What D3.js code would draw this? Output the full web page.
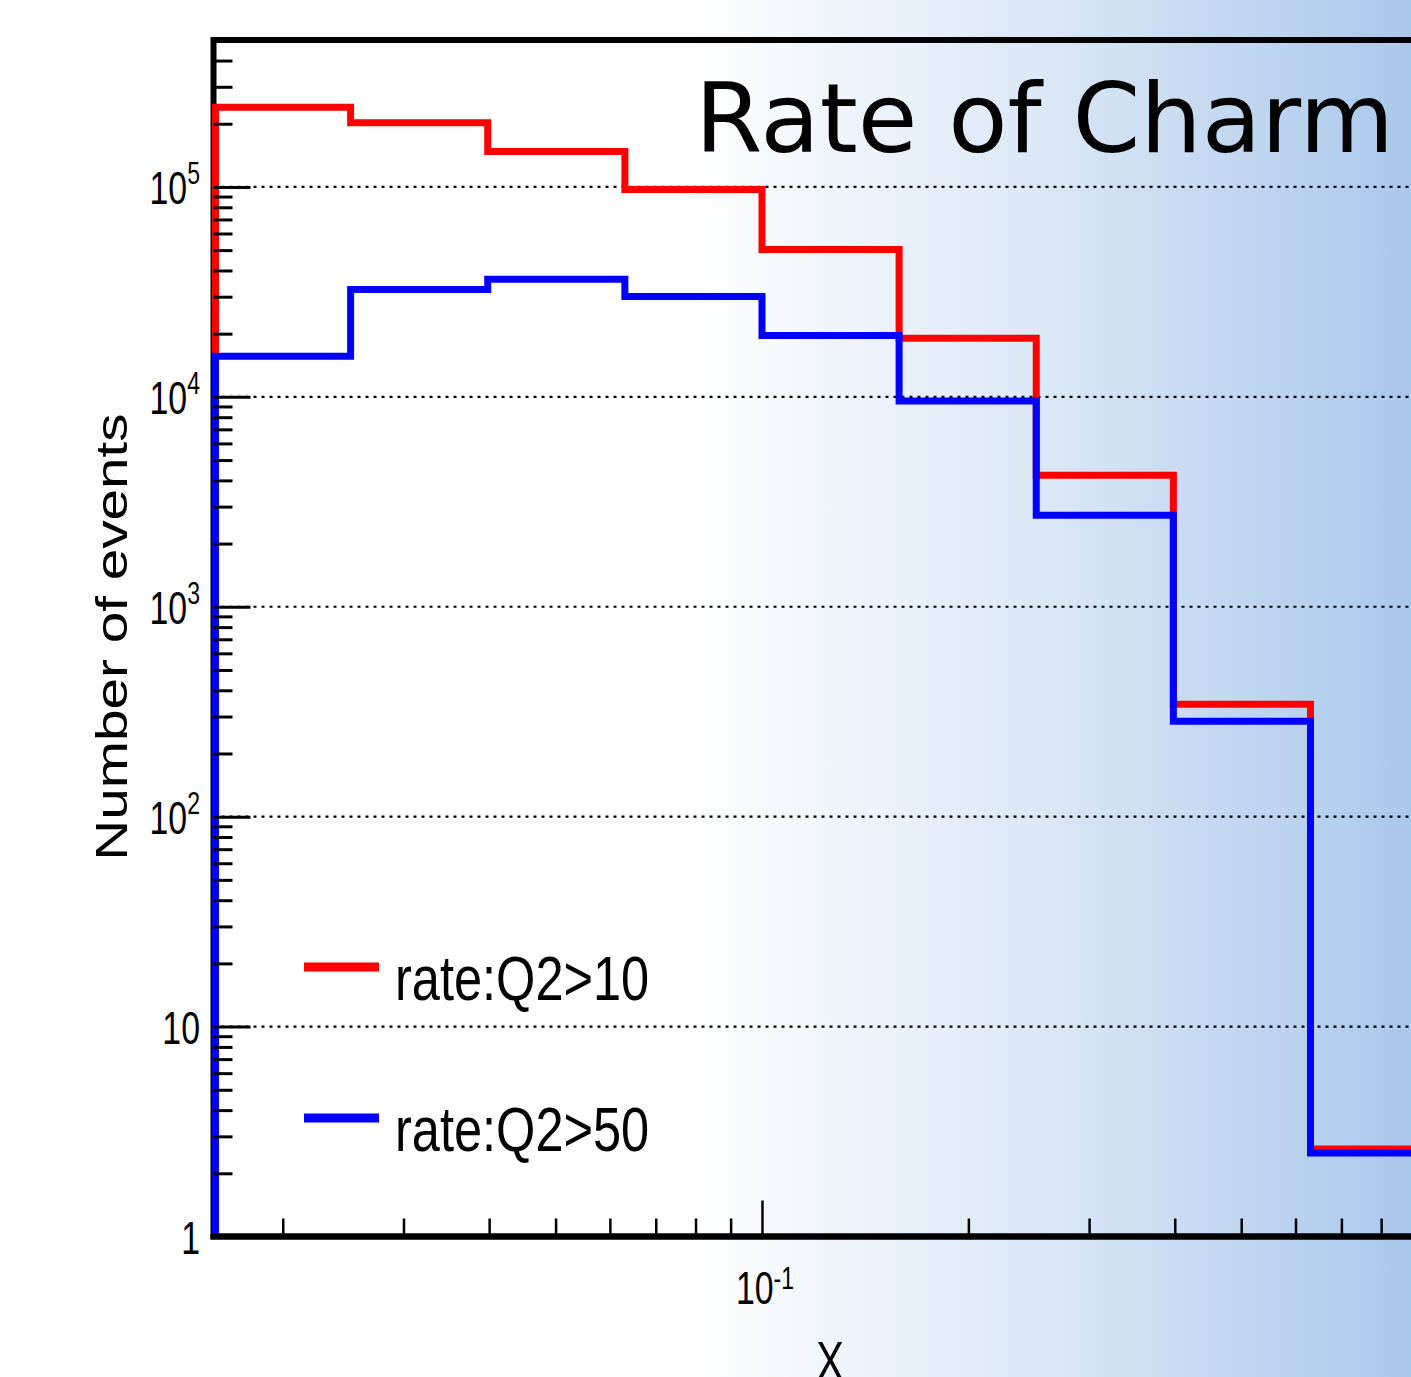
<!DOCTYPE html>
<html>
<head>
<meta charset="utf-8">
<script src="https://cdn.jsdelivr.net/npm/d3@7"></script>
<style>
  html, body { margin: 0; padding: 0; background: #fff; }
  svg { display: block; }
</style>
</head>
<body>
<div id="chart"></div>
<script>
// bin edges in x (log spaced, 9 bins)
const xEdges = [0.01585, 0.02512, 0.03981, 0.0631, 0.1, 0.1585, 0.2512, 0.3981, 0.631, 1.0];
// events per bin
const rateQ2gt10 = [240000, 202000, 147600, 97300, 50400, 19000, 4230, 343, 2.61];
const rateQ2gt50 = [15600, 32500, 36300, 30100, 19600, 9550, 2730, 285, 2.5];
const seriesNames = ['rate:Q2>10', 'rate:Q2>50'];
const seriesColors = ['#ff0000', '#0000ff'];
const titleText = 'Rate of Charm';
const xTitle = 'X';
const yTitle = 'Number of events';

const W = 1411, H = 1377;
const frame = { left: 213.5, right: 1447.6, top: 40, bottom: 1236.5 };

const svg = d3.select('#chart').append('svg')
  .attr('width', W).attr('height', H);

// background gradient (white on the left, light blue on the right)
const defs = svg.append('defs');
const grad = defs.append('linearGradient')
  .attr('id', 'bg-grad')
  .attr('gradientUnits', 'userSpaceOnUse')
  .attr('x1', 690).attr('y1', 0).attr('x2', 1411).attr('y2', 0);
grad.append('stop').attr('offset', '0%').attr('stop-color', '#ffffff');
grad.append('stop').attr('offset', '50%').attr('stop-color', '#dae7f6');
grad.append('stop').attr('offset', '100%').attr('stop-color', '#aac8ec');

svg.append('rect')
  .attr('width', W).attr('height', H)
  .attr('fill', 'url(#bg-grad)');

// scales
const x = d3.scaleLog()
  .domain([xEdges[0], xEdges[xEdges.length - 1]])
  .range([frame.left, frame.right]);

const y = d3.scaleLog()
  .domain([1, Math.pow(10, 5.7)])
  .range([frame.bottom, frame.top]);

const isDecade = (v) => Math.abs(Math.log10(v) - Math.round(Math.log10(v))) < 1e-9;

// dotted grid at decades
const yMajors = y.ticks().filter(isDecade).filter((v) => v > 1);
svg.append('g')
  .selectAll('line')
  .data(yMajors)
  .enter()
  .append('line')
  .attr('x1', frame.left).attr('x2', frame.right)
  .attr('y1', (d) => y(d)).attr('y2', (d) => y(d))
  .attr('stroke', '#000')
  .attr('stroke-width', 2.2)
  .attr('stroke-dasharray', '3,5');

// frame (drawn under the histograms)
svg.append('rect')
  .attr('x', frame.left).attr('y', frame.top)
  .attr('width', frame.right - frame.left)
  .attr('height', frame.bottom - frame.top)
  .attr('fill', 'none')
  .attr('stroke', '#000')
  .attr('stroke-width', 6);

// histogram outlines
const stepPath = (vals) => {
  const p = d3.path();
  p.moveTo(x(xEdges[0]) + 2, y(1));
  vals.forEach((v, i) => {
    p.lineTo(x(xEdges[i]) + (i === 0 ? 2 : 0), y(v));
    p.lineTo(x(xEdges[i + 1]), y(v));
  });
  p.lineTo(x(xEdges[vals.length]), y(1));
  return p.toString();
};

[rateQ2gt10, rateQ2gt50].forEach((vals, i) => {
  svg.append('path')
    .attr('d', stepPath(vals))
    .attr('fill', 'none')
    .attr('stroke', seriesColors[i])
    .attr('stroke-width', 7)
    .attr('stroke-linejoin', 'miter');
});

// bottom axis line on top of the histograms
svg.append('line')
  .attr('x1', frame.left - 3).attr('x2', frame.right)
  .attr('y1', frame.bottom).attr('y2', frame.bottom)
  .attr('stroke', '#000')
  .attr('stroke-width', 6);

// y ticks (pointing inwards)
const yTicks = y.ticks();
svg.append('g')
  .attr('transform', `translate(${frame.left},0)`)
  .call(d3.axisLeft(y).tickValues(yTicks.filter((v) => !isDecade(v))).tickSize(-19).tickFormat(''))
  .call((g) => g.select('.domain').remove())
  .call((g) => g.selectAll('line').attr('stroke-width', 3));

svg.append('g')
  .attr('transform', `translate(${frame.left},0)`)
  .call(d3.axisLeft(y).tickValues(yTicks.filter(isDecade)).tickSize(-37).tickFormat(''))
  .call((g) => g.select('.domain').remove())
  .call((g) => g.selectAll('line').attr('stroke-width', 3));

// x ticks (pointing inwards)
const xTicks = x.ticks();
svg.append('g')
  .attr('transform', `translate(0,${frame.bottom})`)
  .call(d3.axisBottom(x).tickValues(xTicks.filter((v) => !isDecade(v))).tickSize(-18).tickFormat(''))
  .call((g) => g.select('.domain').remove())
  .call((g) => g.selectAll('line').attr('stroke-width', 2.5));

svg.append('g')
  .attr('transform', `translate(0,${frame.bottom})`)
  .call(d3.axisBottom(x).tickValues(xTicks.filter(isDecade)).tickSize(-36).tickFormat(''))
  .call((g) => g.select('.domain').remove())
  .call((g) => g.selectAll('line').attr('stroke-width', 2.5));

// tick labels, ROOT style 10^n
const labelFont = 'Liberation Sans, Arial, Helvetica, sans-serif';
const powerLabel = (sel, exp) => {
  if (exp === 0) {
    sel.append('tspan').text('1');
  } else if (exp === 1) {
    sel.append('tspan').text('10');
  } else {
    sel.append('tspan').text('10');
    sel.append('tspan')
      .attr('font-size', 32)
      .attr('dy', -20)
      .text(String(exp));
  }
};

yTicks.filter(isDecade).forEach((v) => {
  const exp = Math.round(Math.log10(v));
  const t = svg.append('text')
    .attr('transform', `translate(200,${y(v) + 17}) scale(0.72,1)`)
    .attr('text-anchor', 'end')
    .attr('font-family', labelFont)
    .attr('font-size', 47)
    .attr('fill', '#000');
  powerLabel(t, exp);
});

// only the 10^-1 label falls inside the picture
xTicks.filter(isDecade).filter((v) => x(v) < W - 40).forEach((v) => {
  const exp = Math.round(Math.log10(v));
  const t = svg.append('text')
    .attr('transform', `translate(${x(v) - 26},1304) scale(0.72,1)`)
    .attr('text-anchor', 'start')
    .attr('font-family', labelFont)
    .attr('font-size', 47)
    .attr('fill', '#000');
  t.append('tspan').text('10');
  t.append('tspan').attr('font-size', 32).attr('dy', -15).text(String(exp));
});

// axis titles
svg.append('text')
  .attr('transform', 'translate(830,1380) scale(0.74,1)')
  .attr('text-anchor', 'middle')
  .attr('font-family', labelFont)
  .attr('font-size', 56)
  .text(xTitle);

svg.append('text')
  .attr('transform', 'translate(127,637) rotate(-90) scale(1.26,1)')
  .attr('text-anchor', 'middle')
  .attr('font-family', labelFont)
  .attr('font-size', 45)
  .text(yTitle);

// title
svg.append('text')
  .attr('x', 695).attr('y', 152)
  .attr('font-family', 'DejaVu Sans, Verdana, sans-serif')
  .attr('font-size', 97)
  .text(titleText);

// legend
const legend = svg.append('g');
[967, 1118].forEach((ly, i) => {
  legend.append('line')
    .attr('x1', 304).attr('x2', 379)
    .attr('y1', ly).attr('y2', ly)
    .attr('stroke', seriesColors[i])
    .attr('stroke-width', 9);
  legend.append('text')
    .attr('transform', `translate(395,${ly + 33}) scale(0.815,1)`)
    .attr('font-family', labelFont)
    .attr('font-size', 62)
    .text(seriesNames[i]);
});
</script>
</body>
</html>
